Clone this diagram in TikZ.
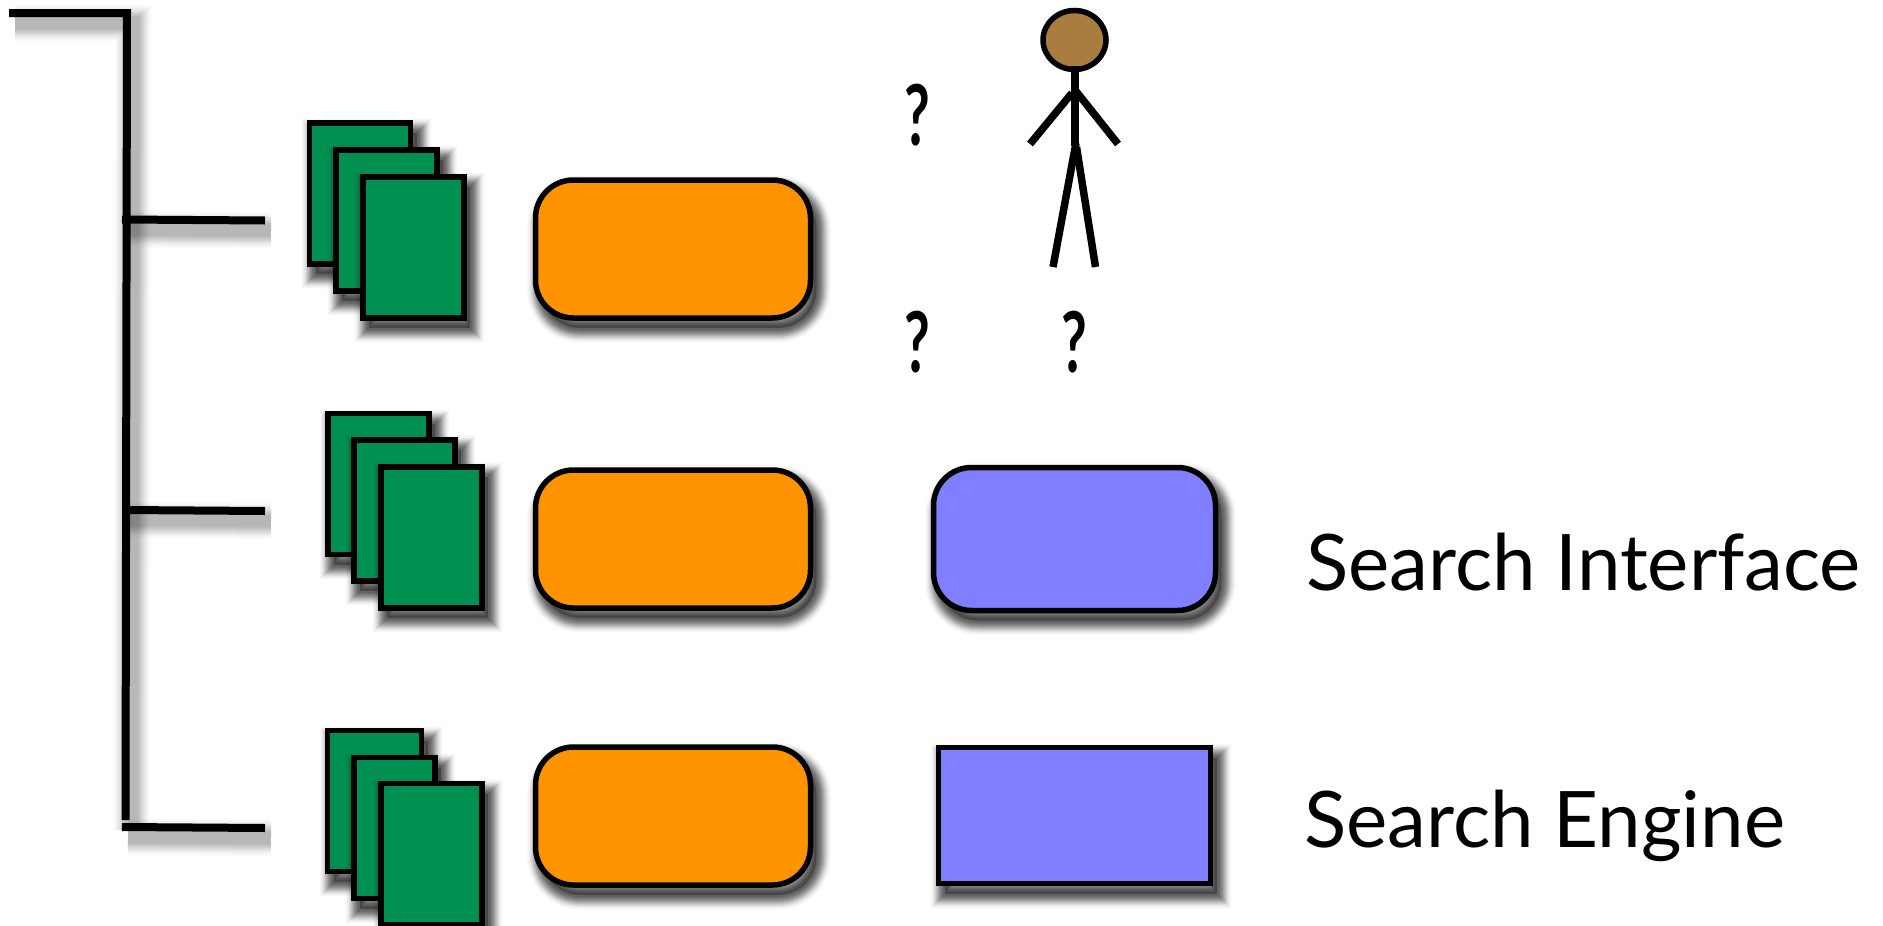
\documentclass[tikz,border=0pt]{standalone}
\usepackage{fontspec}
\usetikzlibrary{shapes.geometric}
\setmainfont{Lato}
\definecolor{docgreen}{HTML}{009051}
\definecolor{boxorange}{HTML}{FF9300}
\definecolor{boxblue}{HTML}{7F7FFF}
\definecolor{skin}{HTML}{A97C40}
\tikzset{
  blay/.style 2 args={preaction={draw=black,fill=none,opacity=#2,line width=#1,
     transform canvas={shift={(6pt,-10pt)}}}},
  softbox/.style={
     preaction={fill=black,draw=none,opacity=.3,transform canvas={shift={(6pt,-10pt)}}},
     blay={30pt}{.012},blay={28pt}{.018},blay={26pt}{.025},blay={24pt}{.035},blay={22pt}{.05},blay={20pt}{.06},
     blay={18pt}{.07},blay={16pt}{.08},blay={14pt}{.09},blay={12pt}{.09},blay={10pt}{.09},blay={8pt}{.09},blay={6pt}{.09},blay={4pt}{.09}},
  slay/.style 2 args={preaction={draw=black,opacity=#2,line width=#1,
     transform canvas={shift={(6pt,-10pt)}}}},
  softline/.style={draw=black,line width=8pt,
     slay={38pt}{.006},slay={36pt}{.008},slay={34pt}{.012},slay={32pt}{.016},slay={30pt}{.02},slay={28pt}{.022},slay={26pt}{.025},slay={24pt}{.028},slay={22pt}{.03},slay={20pt}{.03},slay={18pt}{.03},slay={16pt}{.03},slay={14pt}{.03},slay={12pt}{.03}},
  page/.style={rectangle,draw=black,line width=5.5pt,fill=docgreen,inner sep=0pt,outer sep=0pt,
     minimum height=141pt,softbox},
  roundbox/.style={rectangle,draw=black,line width=5.5pt,inner sep=0pt,outer sep=0pt,rounded corners=38pt,softbox},
  orangebox/.style={roundbox,fill=boxorange,minimum width=275pt,minimum height=138pt},
  bluebox/.style={roundbox,fill=boxblue,minimum width=282pt,minimum height=143pt},
  engine/.style={rectangle,draw=black,line width=5.5pt,inner sep=0pt,outer sep=0pt,fill=boxblue,
     minimum width=272pt,minimum height=136pt,softbox},
  figure/.style={draw=black,line width=7.5pt,line cap=butt},
  label/.style={font=\fontsize{78pt}{78pt}\selectfont,anchor=base west,inner sep=0pt,text=black},
  query/.style={font=\fontsize{80pt}{80pt}\selectfont\bfseries,anchor=center,inner sep=0pt,text=black},
}
\begin{document}
\begin{tikzpicture}[x=1pt,y=-1pt]
\useasboundingbox (0,0) rectangle (1883,926);
% tree
\coordinate (top0) at (9,13);
\coordinate (top1) at (127,13);
\coordinate (bot) at (125.5,820);
\coordinate (t1a) at (122,219.5); \coordinate (t1b) at (265,220.5);
\coordinate (t2a) at (124,510);   \coordinate (t2b) at (265,511);
\coordinate (t3a) at (122,827);   \coordinate (t3b) at (265,828);
\path[softline] (top0) -- (top1) -- (bot);
\path[softline] (t1a) -- (t1b);
\path[softline] (t2a) -- (t2b);
\path[softline] (t3a) -- (t3b);
% stack 1
\node[page,minimum width=101pt] (a1) at (360,193.5) {};
\node[page,minimum width=101pt] (a2) at (386.5,220.5) {};
\node[page,minimum width=101pt] (a3) at (413.5,247.5) {};
% stack 2
\node[page,minimum width=101pt] (b1) at (378.5,484) {};
\node[page,minimum width=101pt] (b2) at (404.5,510.5) {};
\node[page,minimum width=101pt] (b3) at (431.5,537.5) {};
% stack 3
\node[page,minimum width=94pt] (c1) at (374.5,801) {};
\node[page,minimum width=81pt] (c2) at (394.5,828) {};
\node[page,minimum width=101pt] (c3) at (431.5,854) {};
% orange
\node[orangebox] (o1) at (673,249) {};
\node[orangebox] (o2) at (673,539) {};
\node[orangebox] (o3) at (673,816) {};
% blue
\node[bluebox] (si) at (1074.5,539) {};
\node[engine] (se) at (1074.5,815.5) {};
% person
\draw[figure] (1072,93) coordinate (sh) -- (1030,144) coordinate (handl);
\draw[figure] (1075,90) -- (1118,144) coordinate (handr);
\draw[figure] (1076,143) coordinate (hip) -- (1053,267) coordinate (footl);
\draw[figure] (1076.5,147) -- (1095.5,267) coordinate (footr);
\node[ellipse,draw=black,line width=5.5pt,fill=skin,minimum width=63pt,minimum height=59pt,inner sep=0pt] (head) at (1074.5,40) {};
\draw[figure] (1075,66) coordinate (neck) -- (1075,146) coordinate (waist);
% question marks
\node[query] (q1) at (917,115) {\scalebox{.7}[1.05]{?}};
\node[query] (q2) at (917,342) {\scalebox{.7}[1.05]{?}};
\node[query] (q3) at (1074,342) {\scalebox{.7}[1.05]{?}};
% labels
\node[label] (l1) at (1306,590) {Search Interface};
\node[label] (l2) at (1304,847) {Search Engine};
\end{tikzpicture}
\end{document}
